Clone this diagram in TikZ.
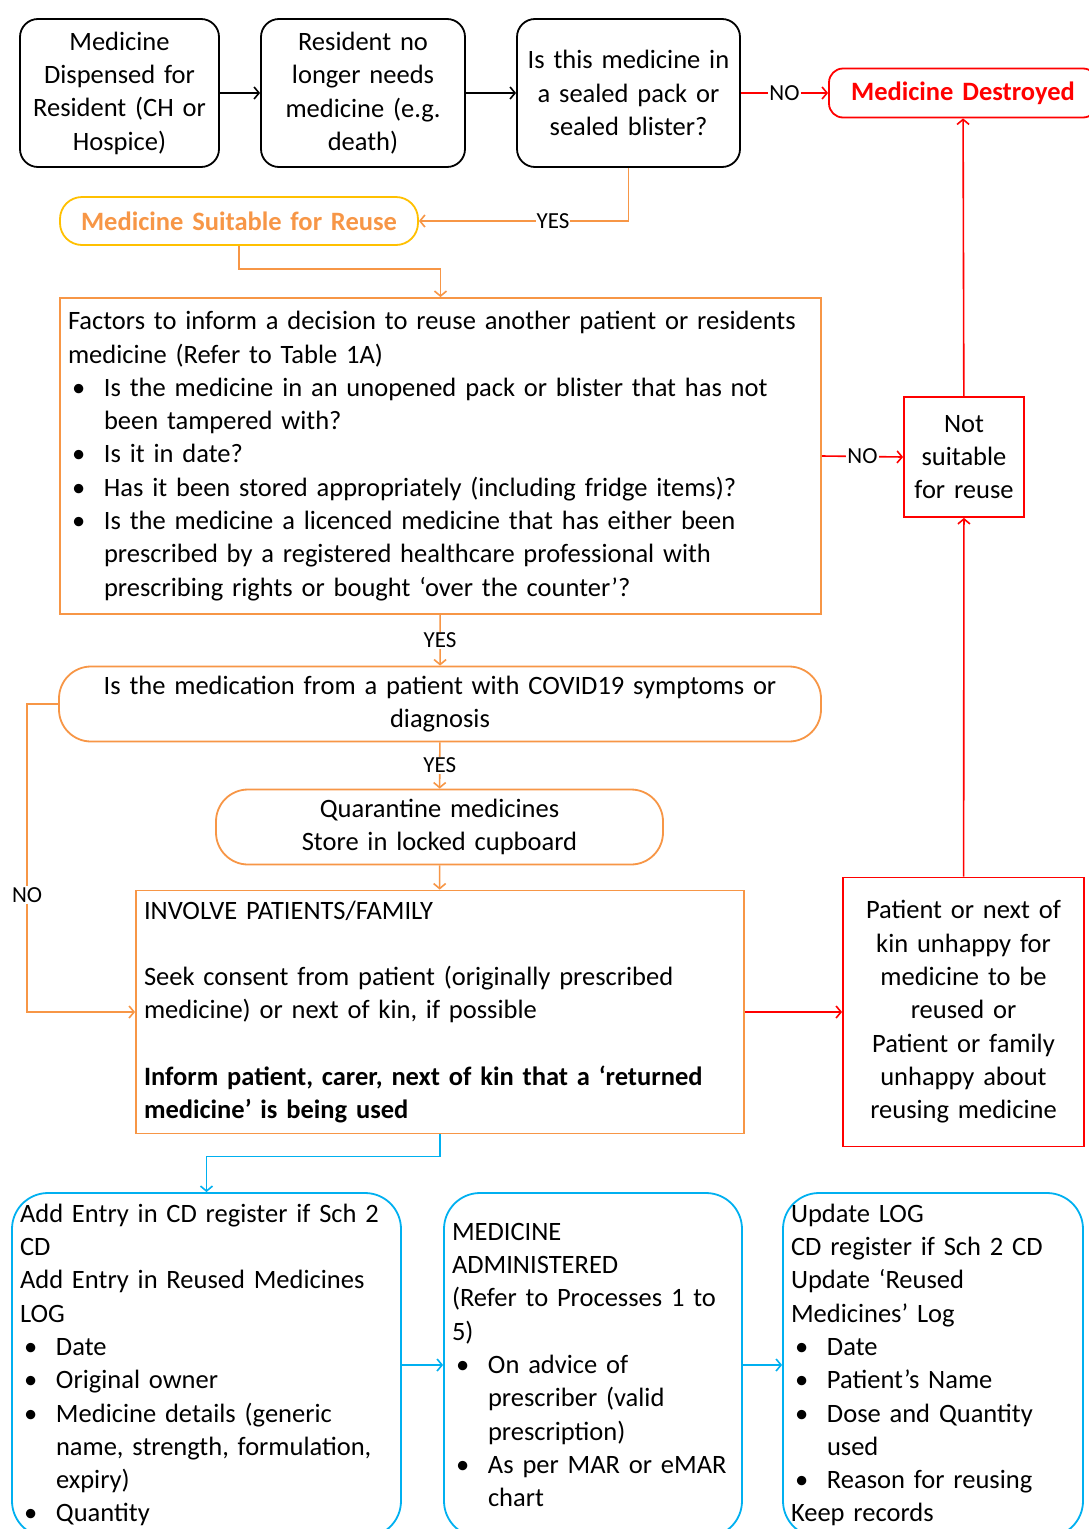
\documentclass[tikz,border=0pt]{standalone}
\usepackage{fontspec}
\setmainfont{Carlito}
\usetikzlibrary{arrows.meta}

\definecolor{reuseorange}{HTML}{F79646}
\definecolor{reusegold}{HTML}{FFC000}
\definecolor{logblue}{HTML}{00B0F0}
\definecolor{stopred}{HTML}{FF0000}

\newcommand{\itemdot}{\makebox[36pt][l]{\hspace{4pt}\textbullet}}
\newcommand{\itemgap}{\hspace*{36pt}}

\tikzset{
	stepbox/.style = {draw, line width = 1.8pt, inner xsep = 8pt, inner ysep = 0pt},
	blackbox/.style = {stepbox, rounded corners = 18pt, align = center},
	orangebox/.style = {stepbox, draw = reuseorange},
	redbox/.style = {stepbox, draw = stopred, align = center},
	bluebox/.style = {stepbox, draw = logblue, rounded corners = 36pt, align = left},
	answer/.style = {fill = white, text = black, inner sep = 1pt, font = \fontsize{23}{27}\selectfont},
	blackline/.style = {->, line width = 1.6pt},
	orangeline/.style = {->, line width = 1.6pt, draw = reuseorange},
	redline/.style = {->, line width = 1.6pt, draw = stopred},
	blueline/.style = {->, line width = 1.6pt, draw = logblue}
}

\begin{document}
\begin{tikzpicture}[x = 1pt, y = -1pt, font = \fontsize{26.5}{33.3}\selectfont, > = {Straight Barb[length = 5pt, width = 12pt]}]
	\useasboundingbox[fill = white] (0, 0) rectangle (1088, 1529);
	\node[blackbox, minimum width = 199pt, minimum height = 148pt, text width = 183pt] (dispensed) at (119.5, 93) {Medicine\\ Dispensed for\\ Resident (CH or\\ Hospice)};
	\node[blackbox, minimum width = 204pt, minimum height = 148pt, text width = 188pt] (noneed) at (363, 93) {Resident no\\ longer needs\\ medicine (e.g.\\ death)};
	\node[blackbox, minimum width = 223pt, minimum height = 148pt, text width = 207pt] (sealed) at (628.5, 93) {Is this medicine in\\ a sealed pack or\\ sealed blister?};
	\node[redbox, rounded corners = 14pt, minimum width = 268pt, minimum height = 49pt, text width = 252pt, text = stopred, font = \fontsize{26.5}{33.3}\selectfont\bfseries] (destroyed) at (963, 93) {Medicine Destroyed};
	\node[stepbox, draw = reusegold, rounded corners = 22pt, minimum width = 358pt, minimum height = 48pt, text width = 342pt, align = center, text = reuseorange, font = \fontsize{26.5}{33.3}\selectfont\bfseries] (suitable) at (239, 221) {Medicine Suitable for Reuse};
	\node[orangebox, minimum width = 761pt, minimum height = 316pt, text width = 745pt, align = left] (factors) at (440.5, 456) {Factors to inform a decision to reuse another patient or residents\\ medicine (Refer to Table 1A)\\
		\itemdot Is the medicine in an unopened pack or blister that has not\\ \itemgap been tampered with?\\
		\itemdot Is it in date?\\
		\itemdot Has it been stored appropriately (including fridge items)?\\
		\itemdot Is the medicine a licenced medicine that has either been\\ \itemgap prescribed by a registered healthcare professional with\\ \itemgap prescribing rights or bought ‘over the counter’?};
	\node[redbox, minimum width = 120pt, minimum height = 120pt, text width = 104pt] (notsuitable) at (964, 457) {Not\\ suitable\\ for reuse};
	\node[orangebox, rounded corners = 32pt, minimum width = 762pt, minimum height = 75pt, text width = 746pt, align = center] (covid) at (440, 704) {Is the medication from a patient with COVID19 symptoms or\\ diagnosis};
	\node[orangebox, rounded corners = 32pt, minimum width = 447pt, minimum height = 75pt, text width = 431pt, align = center] (quarantine) at (439.5, 827) {Quarantine medicines\\ Store in locked cupboard};
	\node[orangebox, minimum width = 608pt, minimum height = 243pt, text width = 592pt, align = left] (involve) at (440, 1012) {INVOLVE PATIENTS/FAMILY\\[33.3pt]
		Seek consent from patient (originally prescribed\\ medicine) or next of kin, if possible\\[33.3pt]
		\textbf{Inform patient, carer, next of kin that a ‘returned}\\ \textbf{medicine’ is being used}};
	\node[redbox, minimum width = 241pt, minimum height = 269pt, text width = 225pt] (unhappy) at (963.5, 1012) {Patient or next of\\ kin unhappy for\\ medicine to be\\ reused or\\ Patient or family\\ unhappy about\\ reusing medicine};
	\node[bluebox, minimum width = 389pt, minimum height = 344pt, text width = 373pt] (addentry) at (206.5, 1365) {Add Entry in CD register if Sch 2\\ CD\\ Add Entry in Reused Medicines\\ LOG\\
		\itemdot Date\\
		\itemdot Original owner\\
		\itemdot Medicine details (generic\\ \itemgap name, strength, formulation,\\ \itemgap expiry)\\
		\itemdot Quantity};
	\node[bluebox, minimum width = 298pt, minimum height = 344pt, text width = 282pt] (administered) at (593, 1365) {MEDICINE\\ ADMINISTERED\\ (Refer to Processes 1 to\\ 5)\\
		\itemdot On advice of\\ \itemgap prescriber (valid\\ \itemgap prescription)\\
		\itemdot As per MAR or eMAR\\ \itemgap chart};
	\node[bluebox, minimum width = 300pt, minimum height = 344pt, text width = 284pt] (updatelog) at (933, 1365) {Update LOG\\ CD register if Sch 2 CD\\ Update ‘Reused\\ Medicines’ Log\\
		\itemdot Date\\
		\itemdot Patient’s Name\\
		\itemdot Dose and Quantity\\ \itemgap used\\
		\itemdot Reason for reusing\\ Keep records};
	\draw[blackline] (dispensed) -- (noneed);
	\draw[blackline] (noneed) -- (sealed);
	\draw[redline] (sealed) -- node[answer] {NO} (destroyed);
	\draw[orangeline] (sealed.south) |- node[answer, pos = 0.68] {YES} (suitable.east);
	\draw[orangeline] (suitable.south) -- ++(0, 23) -| (factors.north);
	\draw[redline] (factors.east) -- node[answer] {NO} (notsuitable.west);
	\draw[redline] (notsuitable) -- (destroyed);
	\draw[orangeline] (factors) -- node[answer] {YES} (covid);
	\draw[orangeline] (covid) -- node[answer] {YES} (quarantine);
	\draw[orangeline] (quarantine) -- (involve);
	\draw[orangeline] (covid.west) -- ++(-31, 0) |- node[answer, pos = 0.31] {NO} (involve.west);
	\draw[redline] (involve) -- (unhappy);
	\draw[redline] (unhappy) -- (notsuitable);
	\draw[blueline] (involve.south) -- ++(0, 22) -| (addentry.north);
	\draw[blueline] (addentry) -- (administered);
	\draw[blueline] (administered) -- (updatelog);
\end{tikzpicture}
\end{document}
